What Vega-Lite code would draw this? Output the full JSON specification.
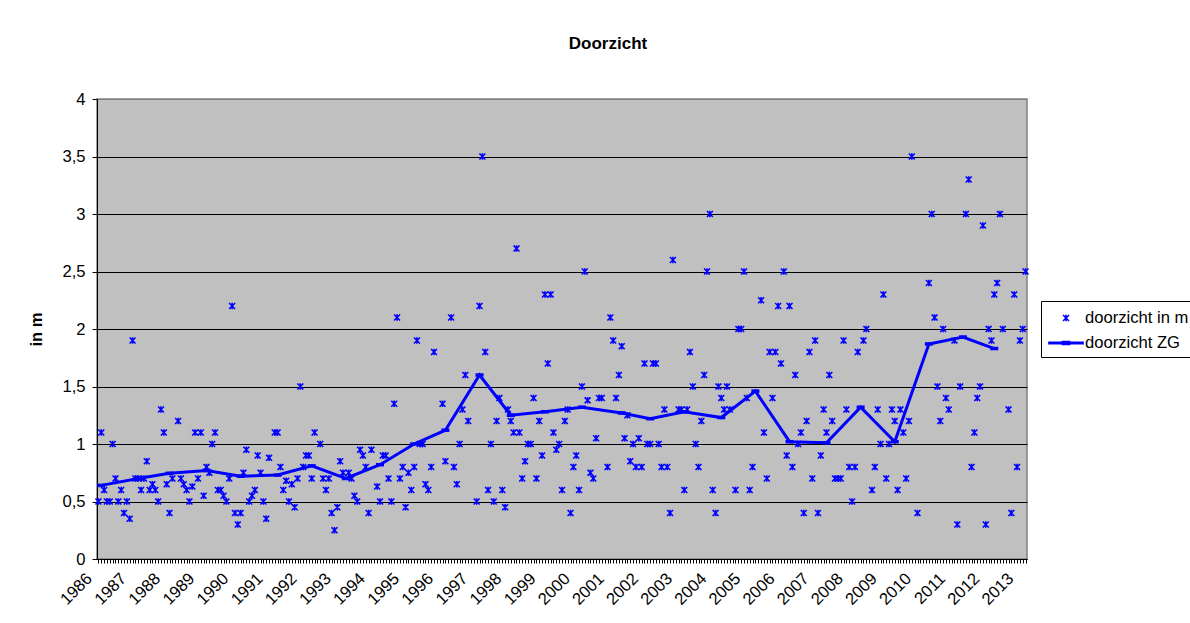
{
  "$schema": "https://vega.github.io/schema/vega-lite/v6.json",
  "width": 930,
  "height": 460,
  "autosize": {"type": "none"},
  "padding": {"left": 97, "top": 99, "right": 163, "bottom": 64},
  "background": "white",
  "title": {"text": "Doorzicht", "fontSize": 17, "fontWeight": "bold", "color": "black", "anchor": "middle", "dx": 46, "offset": 25, "baseline": "alphabetic"},
  "datasets": {
    "meting": [
      {"m":0,"v":0.5},{"m":1,"v":1.1},{"m":2,"v":0.6},{"m":3,"v":0.5},{"m":4,"v":0.5},{"m":5,"v":1.0},{"m":6,"v":0.7},{"m":7,"v":0.5},{"m":8,"v":0.6},{"m":9,"v":0.4},{"m":10,"v":0.5},{"m":11,"v":0.35},
      {"m":12,"v":1.9},{"m":13,"v":0.7},{"m":14,"v":0.7},{"m":15,"v":0.6},{"m":16,"v":0.7},{"m":17,"v":0.85},{"m":18,"v":0.6},{"m":19,"v":0.65},{"m":20,"v":0.6},{"m":21,"v":0.5},{"m":22,"v":1.3},{"m":23,"v":1.1},
      {"m":24,"v":0.65},{"m":25,"v":0.4},{"m":26,"v":0.7},{"m":28,"v":1.2},{"m":29,"v":0.7},{"m":30,"v":0.65},{"m":31,"v":0.6},{"m":32,"v":0.5},{"m":33,"v":0.63},{"m":34,"v":1.1},{"m":35,"v":0.7},
      {"m":36,"v":1.1},{"m":37,"v":0.55},{"m":38,"v":0.8},{"m":39,"v":0.75},{"m":40,"v":1.0},{"m":41,"v":1.1},{"m":42,"v":0.6},{"m":43,"v":0.6},{"m":44,"v":0.55},{"m":45,"v":0.5},{"m":46,"v":0.7},{"m":47,"v":2.2},
      {"m":48,"v":0.4},{"m":49,"v":0.3},{"m":50,"v":0.4},{"m":51,"v":0.75},{"m":52,"v":0.95},{"m":53,"v":0.5},{"m":54,"v":0.55},{"m":55,"v":0.6},{"m":56,"v":0.9},{"m":57,"v":0.75},{"m":58,"v":0.5},{"m":59,"v":0.35},
      {"m":60,"v":0.88},{"m":62,"v":1.1},{"m":63,"v":1.1},{"m":64,"v":0.8},{"m":65,"v":0.6},{"m":66,"v":0.68},{"m":67,"v":0.5},{"m":68,"v":0.65},{"m":69,"v":0.45},{"m":70,"v":0.7},{"m":71,"v":1.5},
      {"m":72,"v":0.8},{"m":73,"v":0.9},{"m":74,"v":0.9},{"m":75,"v":0.7},{"m":76,"v":1.1},{"m":78,"v":1.0},{"m":79,"v":0.7},{"m":80,"v":0.6},{"m":81,"v":0.7},{"m":82,"v":0.4},{"m":83,"v":0.25},
      {"m":84,"v":0.45},{"m":85,"v":0.85},{"m":86,"v":0.75},{"m":88,"v":0.75},{"m":89,"v":0.7},{"m":90,"v":0.55},{"m":91,"v":0.5},{"m":92,"v":0.95},{"m":93,"v":0.9},{"m":94,"v":0.8},{"m":95,"v":0.4},
      {"m":96,"v":0.95},{"m":98,"v":0.63},{"m":99,"v":0.5},{"m":100,"v":0.9},{"m":101,"v":0.9},{"m":102,"v":0.7},{"m":103,"v":0.5},{"m":104,"v":1.35},{"m":105,"v":2.1},{"m":106,"v":0.7},{"m":107,"v":0.8},
      {"m":108,"v":0.45},{"m":109,"v":0.75},{"m":110,"v":0.6},{"m":111,"v":0.8},{"m":112,"v":1.9},{"m":113,"v":1.0},{"m":114,"v":1.0},{"m":115,"v":0.65},{"m":116,"v":0.6},{"m":117,"v":0.8},{"m":118,"v":1.8},
      {"m":121,"v":1.35},{"m":122,"v":0.85},{"m":124,"v":2.1},{"m":125,"v":0.8},{"m":126,"v":0.65},{"m":127,"v":1.0},{"m":128,"v":1.3},{"m":129,"v":1.6},{"m":130,"v":1.2},
      {"m":133,"v":0.5},{"m":134,"v":2.2},{"m":135,"v":3.5},{"m":136,"v":1.8},{"m":137,"v":0.6},{"m":138,"v":1.0},{"m":139,"v":0.5},{"m":140,"v":1.2},{"m":141,"v":1.4},{"m":142,"v":0.6},{"m":143,"v":0.45},
      {"m":144,"v":1.3},{"m":145,"v":1.2},{"m":146,"v":1.1},{"m":147,"v":2.7},{"m":148,"v":1.1},{"m":149,"v":0.7},{"m":150,"v":0.85},{"m":151,"v":1.0},{"m":152,"v":1.0},{"m":153,"v":1.4},{"m":154,"v":0.7},{"m":155,"v":1.2},
      {"m":156,"v":0.9},{"m":157,"v":2.3},{"m":158,"v":1.7},{"m":159,"v":2.3},{"m":160,"v":1.1},{"m":161,"v":0.95},{"m":162,"v":1.0},{"m":163,"v":0.6},{"m":164,"v":1.2},{"m":165,"v":1.3},{"m":166,"v":0.4},{"m":167,"v":0.8},
      {"m":168,"v":0.9},{"m":169,"v":0.6},{"m":170,"v":1.5},{"m":171,"v":2.5},{"m":172,"v":1.38},{"m":173,"v":0.75},{"m":174,"v":0.7},{"m":175,"v":1.05},{"m":176,"v":1.4},{"m":177,"v":1.4},{"m":179,"v":0.8},
      {"m":180,"v":2.1},{"m":181,"v":1.9},{"m":182,"v":1.4},{"m":183,"v":1.6},{"m":184,"v":1.85},{"m":185,"v":1.05},{"m":186,"v":1.25},{"m":187,"v":0.85},{"m":188,"v":1.0},{"m":189,"v":0.8},{"m":190,"v":1.05},{"m":191,"v":0.8},
      {"m":192,"v":1.7},{"m":193,"v":1.0},{"m":194,"v":1.0},{"m":195,"v":1.7},{"m":196,"v":1.7},{"m":197,"v":1.0},{"m":198,"v":0.8},{"m":199,"v":1.3},{"m":200,"v":0.8},{"m":201,"v":0.4},{"m":202,"v":2.6},
      {"m":204,"v":1.3},{"m":205,"v":1.3},{"m":206,"v":0.6},{"m":207,"v":1.3},{"m":208,"v":1.8},{"m":209,"v":1.5},{"m":210,"v":1.0},{"m":211,"v":0.8},{"m":212,"v":1.2},{"m":213,"v":1.6},{"m":214,"v":2.5},{"m":215,"v":3.0},
      {"m":216,"v":0.6},{"m":217,"v":0.4},{"m":218,"v":1.5},{"m":219,"v":1.4},{"m":220,"v":1.3},{"m":221,"v":1.5},{"m":222,"v":1.3},{"m":224,"v":0.6},{"m":225,"v":2.0},{"m":226,"v":2.0},{"m":227,"v":2.5},
      {"m":228,"v":1.4},{"m":229,"v":0.6},{"m":230,"v":0.8},{"m":233,"v":2.25},{"m":234,"v":1.1},{"m":235,"v":0.7},{"m":236,"v":1.8},{"m":237,"v":1.4},{"m":238,"v":1.8},{"m":239,"v":2.2},
      {"m":240,"v":1.7},{"m":241,"v":2.5},{"m":242,"v":0.9},{"m":243,"v":2.2},{"m":244,"v":0.8},{"m":245,"v":1.6},{"m":246,"v":1.0},{"m":247,"v":1.1},{"m":248,"v":0.4},{"m":249,"v":1.2},{"m":250,"v":1.8},{"m":251,"v":0.7},
      {"m":252,"v":1.9},{"m":253,"v":0.4},{"m":254,"v":0.9},{"m":255,"v":1.3},{"m":256,"v":1.1},{"m":257,"v":1.6},{"m":258,"v":1.2},{"m":259,"v":0.7},{"m":260,"v":0.7},{"m":261,"v":0.7},{"m":262,"v":1.9},{"m":263,"v":1.3},
      {"m":264,"v":0.8},{"m":265,"v":0.5},{"m":266,"v":0.8},{"m":267,"v":1.8},{"m":269,"v":1.9},{"m":270,"v":2.0},{"m":272,"v":0.6},{"m":273,"v":0.8},{"m":274,"v":1.3},{"m":275,"v":1.0},
      {"m":276,"v":2.3},{"m":277,"v":0.7},{"m":278,"v":1.0},{"m":279,"v":1.3},{"m":280,"v":1.2},{"m":281,"v":0.6},{"m":282,"v":1.3},{"m":283,"v":1.1},{"m":284,"v":0.7},{"m":285,"v":1.2},{"m":286,"v":3.5},
      {"m":288,"v":0.4},{"m":292,"v":2.4},{"m":293,"v":3.0},{"m":294,"v":2.1},{"m":295,"v":1.5},{"m":296,"v":1.2},{"m":297,"v":2.0},{"m":298,"v":1.4},{"m":299,"v":1.3},
      {"m":301,"v":1.9},{"m":302,"v":0.3},{"m":303,"v":1.5},{"m":305,"v":3.0},{"m":306,"v":3.3},{"m":307,"v":0.8},{"m":308,"v":1.1},{"m":309,"v":1.4},{"m":310,"v":1.5},{"m":311,"v":2.9},
      {"m":312,"v":0.3},{"m":313,"v":2.0},{"m":314,"v":1.9},{"m":315,"v":2.3},{"m":316,"v":2.4},{"m":317,"v":3.0},{"m":318,"v":2.0},{"m":320,"v":1.3},{"m":321,"v":0.4},{"m":322,"v":2.3},{"m":323,"v":0.8},
      {"m":324,"v":1.9},{"m":325,"v":2.0},{"m":326,"v":2.5}
    ],
    "zg": [
      {"m":1,"v":0.64},{"m":14,"v":0.7},{"m":25,"v":0.745},{"m":38,"v":0.77},{"m":50,"v":0.72},{"m":63,"v":0.73},{"m":75,"v":0.81},{"m":87,"v":0.7},{"m":99,"v":0.82},
      {"m":111,"v":1.0},{"m":122,"v":1.12},{"m":134,"v":1.6},{"m":145,"v":1.25},{"m":157,"v":1.28},{"m":170,"v":1.32},{"m":184,"v":1.27},{"m":194,"v":1.22},{"m":206,"v":1.28},
      {"m":219,"v":1.23},{"m":231,"v":1.46},{"m":243,"v":1.02},{"m":256,"v":1.01},{"m":268,"v":1.32},{"m":280,"v":1.02},{"m":292,"v":1.87},{"m":304,"v":1.93},{"m":315,"v":1.83}
    ]
  },
  "layer": [
    {
      "data": {"name": "meting"},
      "mark": {"type": "point", "filled": false, "strokeWidth": 1.6, "size": 484, "opacity": 1},
      "encoding": {
        "x": {
          "field": "m", "type": "quantitative",
          "scale": {"domain": [-0.5, 326.5], "nice": false, "zero": false},
          "axis": {
            "title": null, "tickCount": 327, "grid": false,
            "labelExpr": "datum.value % 12 == 0 ? '' + (1986 + datum.value / 12) : ''",
            "labelOverlap": false, "labelFlush": false, "labelBound": false,
            "labelAngle": -45, "labelAlign": "right", "labelBaseline": "top",
            "tickSize": 4, "tickColor": "black", "domainColor": "black", "labelPadding": 7, "labelOffset": -15
          }
        },
        "y": {
          "field": "v", "type": "quantitative",
          "scale": {"domain": [0, 4], "nice": false},
          "axis": {
            "title": "in m", "values": [0, 0.5, 1, 1.5, 2, 2.5, 3, 3.5, 4],
            "labelExpr": "replace(format(datum.value, '~g'), '.', ',')",
            "grid": true,
            "gridColor": {"condition": {"test": "datum.value == 4", "value": "#808080"}, "value": "black"},
            "tickSize": 5, "tickColor": "black", "domainColor": "black",
            "labelPadding": 7, "titleFontWeight": "bold", "titlePadding": 17
          }
        },
        "color": {
          "datum": "doorzicht in m",
          "scale": {"domain": ["doorzicht in m", "doorzicht ZG"], "range": ["#0000FF", "#0000FF"]},
          "legend": {
            "title": null, "orient": "none", "legendX": 944, "legendY": 202,
            "strokeColor": "black", "fillColor": "white", "padding": 5,
            "symbolSize": 484, "symbolStrokeWidth": 1.6, "symbolOffset": 8, "labelOffset": 7,
            "rowPadding": 4, "labelFontSize": 16.6, "labelColor": "black",
            "encode": {"symbols": {"update": {"fill": {"value": "#0000FF"}, "stroke": {"value": "#0000FF"}}}}
          }
        },
        "shape": {
          "datum": "doorzicht in m",
          "scale": {
            "domain": ["doorzicht in m", "doorzicht ZG"],
            "range": [
              "M-0.27,-0.27L0.27,0.27M-0.27,0.27L0.27,-0.27M0,-0.3L0,0.3",
              "M-1.55,-0.06L1.55,-0.06L1.55,0.06L-1.55,0.06ZM-0.32,-0.13L0.32,-0.13L0.32,0.13L-0.32,0.13Z"
            ]
          }
        }
      }
    },
    {
      "data": {"name": "zg"},
      "mark": {"type": "line", "strokeWidth": 3},
      "encoding": {
        "x": {"field": "m", "type": "quantitative"},
        "y": {"field": "v", "type": "quantitative"},
        "color": {"datum": "doorzicht ZG"}
      }
    },
    {
      "data": {"name": "zg"},
      "mark": {"type": "point", "shape": "stroke", "size": 64, "strokeWidth": 3.5, "color": "#0000FF", "filled": false, "opacity": 1},
      "encoding": {
        "x": {"field": "m", "type": "quantitative"},
        "y": {"field": "v", "type": "quantitative"}
      }
    }
  ],
  "config": {
    "font": "Liberation Sans",
    "view": {"fill": "#C0C0C0", "stroke": "#808080", "strokeWidth": 1.5},
    "axis": {"labelFontSize": 16.6, "titleFontSize": 16.6, "labelColor": "black", "titleColor": "black"}
  }
}
